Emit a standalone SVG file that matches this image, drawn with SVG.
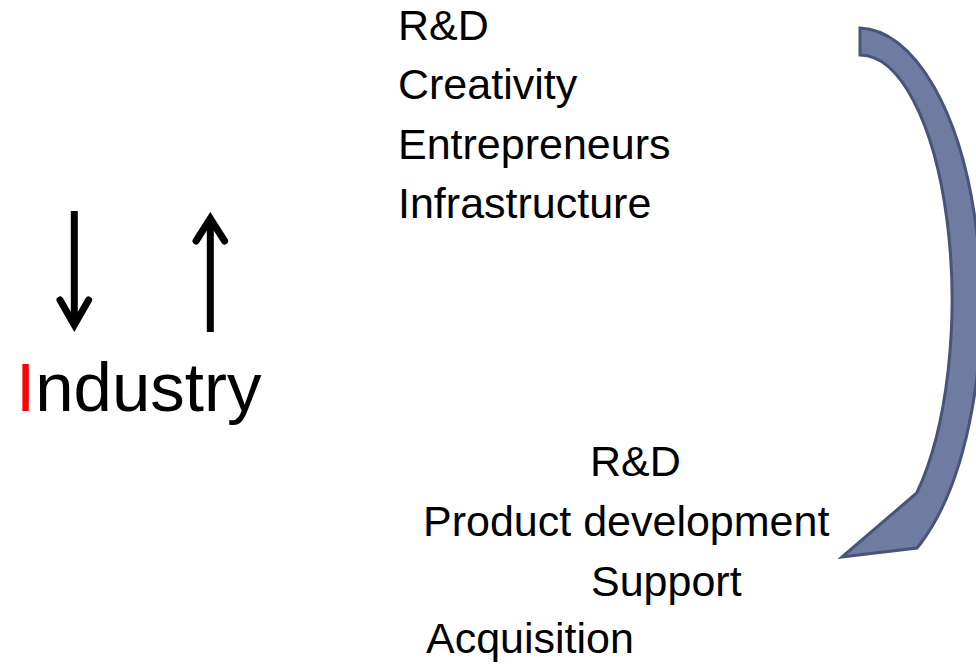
<svg xmlns="http://www.w3.org/2000/svg" width="976" height="664" viewBox="0 0 976 664">
<style>
.t{font-family:"Liberation Sans",Arial,sans-serif;font-size:43px;fill:#000}
.big{font-family:"Liberation Sans",Arial,sans-serif;font-size:69px;fill:#000}
.ar{fill:none;stroke:#000;stroke-width:7}
.hd{fill:none;stroke:#000;stroke-width:7;stroke-linecap:round;stroke-linejoin:miter;stroke-miterlimit:10}
</style>
<rect width="976" height="664" fill="#fff"/>
<g id="top-list">
<text class="t" x="398" y="40">R&amp;D</text>
<text class="t" x="398" y="99">Creativity</text>
<text class="t" x="398" y="159">Entrepreneurs</text>
<text class="t" x="398" y="218">Infrastructure</text>
</g>
<g id="bottom-list">
<text class="t" x="590" y="476">R&amp;D</text>
<text class="t" x="423" y="536">Product development</text>
<text class="t" x="591" y="596">Support</text>
<text class="t" x="426" y="653">Acquisition</text>
</g>
<g id="industry">
<text class="big" x="16" y="411"><tspan fill="#FF0000">I</tspan>ndustry</text>
</g>
<g id="updown-arrows">
<line class="ar" x1="74.3" y1="211" x2="74.3" y2="324"/>
<polyline class="hd" points="60,300 74.3,325 88.6,300"/>
<line class="ar" x1="210.3" y1="332" x2="210.3" y2="220"/>
<polyline class="hd" points="196,241 210.3,218.5 224.6,241"/>
</g>
<g id="connectors">
<path d="M860,28 A123 277 0 0 1 921,543 L917,548 L842,557 L916.7,493 A92 245 0 0 0 860,55 Z" fill="#6F7CA1" stroke="#485478" stroke-width="3" stroke-linejoin="miter"/>
</g>
</svg>
